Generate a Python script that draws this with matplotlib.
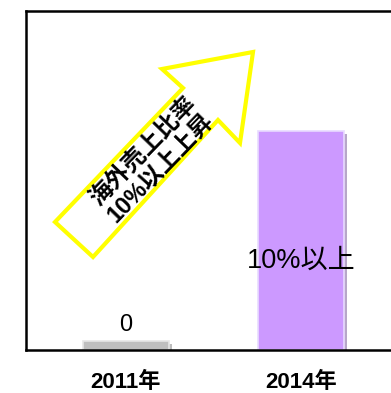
import matplotlib
matplotlib.use("Agg")
import matplotlib.pyplot as plt
import matplotlib.patheffects as pe
from matplotlib.patches import Polygon

plt.rcParams['font.family'] = ['Liberation Sans', 'Noto Sans CJK JP', 'DejaVu Sans']

# data
years = ['2011年', '2014年']
values = [0.4, 10.0]
bar_labels = ['0', '10%以上']
arrow_text = '海外売上比率\n10%以上上昇'

W, H = 391, 393
fig = plt.figure(figsize=(W / 100, H / 100), dpi=100)
ax = fig.add_axes([26 / W, 43 / H, 1 - 26 / W, 339 / H])

x = [0, 1]
colors = ['#BFBFBF', '#CC99FF']
shadows = ['#BDBDBD', '#B7A7C9']
tops = ['#E6E6E6', '#E8DBFF']
bars = ax.bar(x, values, width=0.49, color=colors, edgecolor=tops, linewidth=1.2)
for b, s in zip(bars, shadows):
    b.set_path_effects([pe.SimplePatchShadow(offset=(2.2, -2.2), shadow_rgbFace=s, alpha=1),
                        pe.Normal()])

ax.set_xlim(-0.571, 1.514)
ax.set_ylim(0, 15.5)

ax.text(0, 1.15, bar_labels[0], ha='center', va='center', fontsize=17)
ax.text(1, 4.1, bar_labels[1], ha='center', va='center', fontsize=19.5)

ax.set_xticks(x)
ax.set_xticklabels(years, fontsize=16, fontweight='bold')
ax.tick_params(axis='x', length=0, pad=16)
ax.set_yticks([])
for side in ['left', 'top', 'bottom']:
    ax.spines[side].set_linewidth(1.8)
ax.spines['right'].set_visible(False)


def px(p):
    return (p[0] / W, 1 - p[1] / H)


# arrow shape (figure pixel coords)
pts = [(55, 222), (183, 88), (162, 69), (253, 52), (240, 143), (218, 120), (93, 257)]
arrow = Polygon([px(p) for p in pts], closed=True, transform=fig.transFigure,
                facecolor='white', edgecolor='#FFFF00', linewidth=3, joinstyle='miter')
fig.patches.append(arrow)

fig.text(*px((152, 159)), arrow_text, rotation=46, rotation_mode='anchor',
         ha='center', va='center', multialignment='center',
         fontsize=17, fontweight='bold', linespacing=1.1)

fig.savefig('out.png', dpi=100)
